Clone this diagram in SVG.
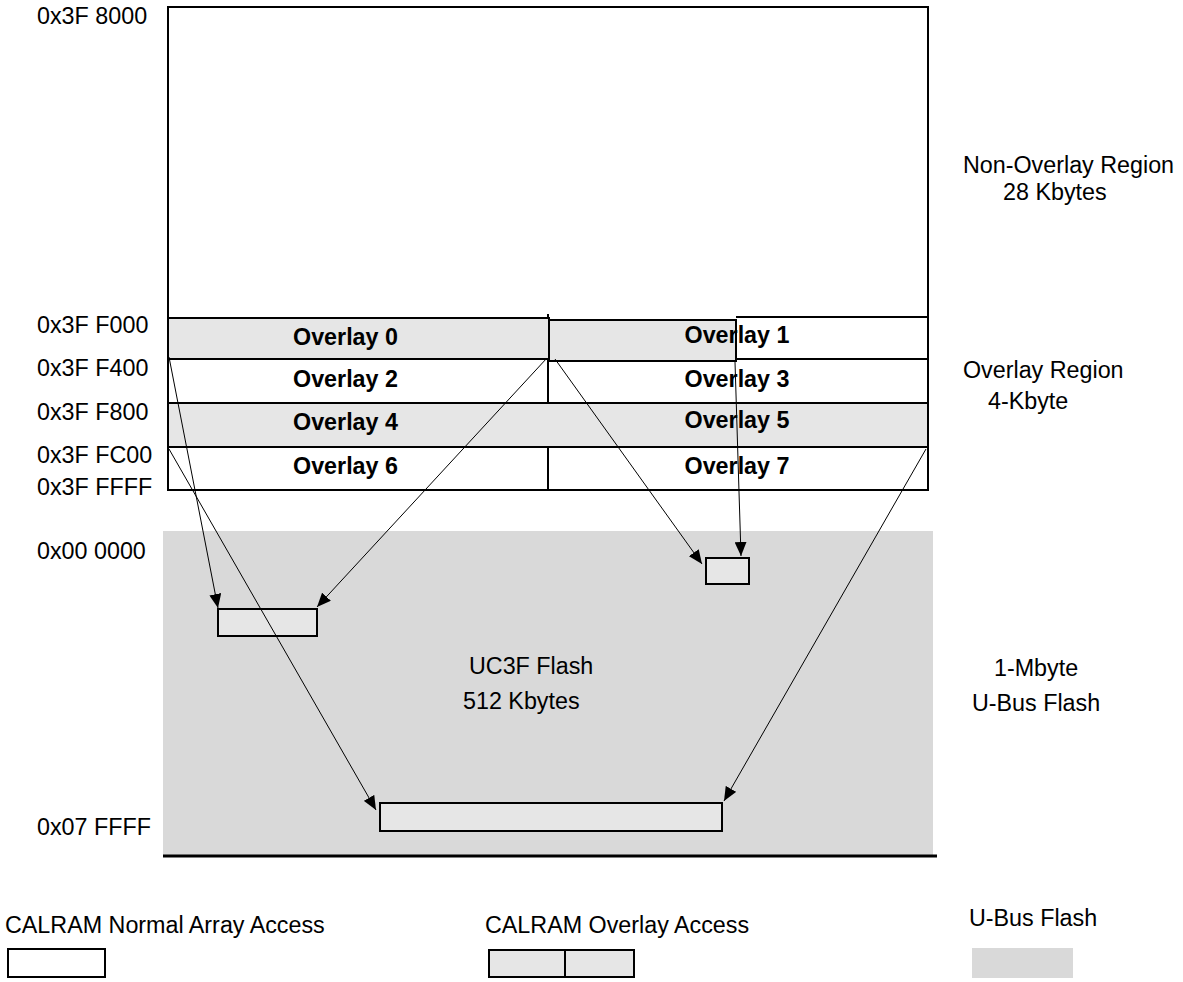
<svg xmlns="http://www.w3.org/2000/svg" width="1183" height="982" viewBox="0 0 1183 982">
<defs>
<style>
.lbl{font-family:"Liberation Sans",Arial,sans-serif;font-size:23.3px;fill:#000}
.ov{font-family:"Liberation Sans",Arial,sans-serif;font-size:23.3px;font-weight:bold;fill:#000;text-anchor:middle}
.box{stroke:#000;stroke-width:2;fill:none}
.g{fill:#e6e6e6;stroke:#000;stroke-width:2}
.w{fill:#fff;stroke:#000;stroke-width:2}
.ln{stroke:#000;stroke-width:2}
.arr{stroke:#000;stroke-width:1;fill:none;marker-end:url(#ah)}
</style>
<marker id="ah" viewBox="0 0 14 12" refX="14" refY="6" markerWidth="14" markerHeight="12" markerUnits="userSpaceOnUse" orient="auto">
<path d="M0,0 L14,6 L0,12 Z" fill="#000"/>
</marker>
</defs>
<rect width="1183" height="982" fill="#fff"/>
<g id="flash">
<rect x="163" y="531" width="770" height="325" fill="#d9d9d9"/>
<line x1="163" y1="856" x2="937" y2="856" stroke="#000" stroke-width="3"/>
</g>
<g id="calram">
<rect class="box" x="168" y="7" width="760" height="483"/>
<line class="ln" x1="168" y1="403" x2="928" y2="403"/>
<line class="ln" x1="168" y1="447" x2="928" y2="447"/>
<line class="ln" x1="736" y1="317" x2="928" y2="317"/>
<line class="ln" x1="549" y1="359" x2="928" y2="359"/>
<line class="ln" x1="168" y1="359" x2="549" y2="359"/>
<line class="ln" x1="548" y1="359" x2="548" y2="403"/>
<line class="ln" x1="548" y1="447" x2="548" y2="490"/>
</g>
<g id="overlay0"><rect class="g" x="168" y="318" width="381" height="41"/><line class="ln" x1="548" y1="314" x2="548" y2="318"/><text class="ov" x="345.5" y="345">Overlay 0</text></g>
<g id="overlay1"><rect class="g" x="549" y="320" width="187" height="41"/><text class="ov" x="737" y="343">Overlay 1</text></g>
<g id="overlay2"><text class="ov" x="345.5" y="387">Overlay 2</text></g>
<g id="overlay3"><text class="ov" x="737" y="387">Overlay 3</text></g>
<g id="overlay45"><rect class="g" x="168" y="403" width="760" height="44"/></g>
<g id="overlay4"><text class="ov" x="345.5" y="430">Overlay 4</text></g>
<g id="overlay5"><text class="ov" x="737" y="428">Overlay 5</text></g>
<g id="overlay6"><text class="ov" x="345.5" y="474">Overlay 6</text></g>
<g id="overlay7"><text class="ov" x="737" y="474">Overlay 7</text></g>
<g id="block1"><rect class="g" x="218" y="609" width="99" height="27"/></g>
<g id="block2"><rect class="g" x="706" y="558" width="43" height="26"/></g>
<g id="block3"><rect class="g" x="380" y="803" width="342" height="28"/></g>
<g id="connectors">
<line class="arr" x1="169" y1="357" x2="218" y2="608"/>
<line class="arr" x1="547" y1="358" x2="317" y2="607"/>
<line class="arr" x1="169" y1="449" x2="376" y2="810"/>
<line class="arr" x1="555" y1="359" x2="702" y2="564"/>
<line class="arr" x1="735" y1="362" x2="741" y2="556"/>
<line class="arr" x1="926" y1="449" x2="724" y2="801"/>
</g>
<g id="labels">
<text class="lbl" x="37" y="24">0x3F 8000</text>
<text class="lbl" x="37" y="333">0x3F F000</text>
<text class="lbl" x="37" y="376">0x3F F400</text>
<text class="lbl" x="37" y="420">0x3F F800</text>
<text class="lbl" x="37" y="463">0x3F FC00</text>
<text class="lbl" x="37" y="495">0x3F FFFF</text>
<text class="lbl" x="37" y="559">0x00 0000</text>
<text class="lbl" x="37" y="835">0x07 FFFF</text>
<text class="lbl" x="963" y="173">Non-Overlay Region</text>
<text class="lbl" x="1003" y="200">28 Kbytes</text>
<text class="lbl" x="963" y="378">Overlay Region</text>
<text class="lbl" x="988" y="409">4-Kbyte</text>
<text class="lbl" x="469" y="674">UC3F Flash</text>
<text class="lbl" x="463" y="709">512 Kbytes</text>
<text class="lbl" x="994" y="676">1-Mbyte</text>
<text class="lbl" x="972" y="711">U-Bus Flash</text>
</g>
<g id="legend">
<text class="lbl" x="5" y="933">CALRAM Normal Array Access</text>
<rect class="w" x="8" y="949" width="97" height="28"/>
<text class="lbl" x="485" y="933">CALRAM Overlay Access</text>
<rect class="g" x="489" y="950" width="145" height="27"/>
<line class="ln" x1="565" y1="950" x2="565" y2="977"/>
<text class="lbl" x="969" y="926">U-Bus Flash</text>
<rect x="972" y="948" width="101" height="30" fill="#d9d9d9"/>
</g>
</svg>
